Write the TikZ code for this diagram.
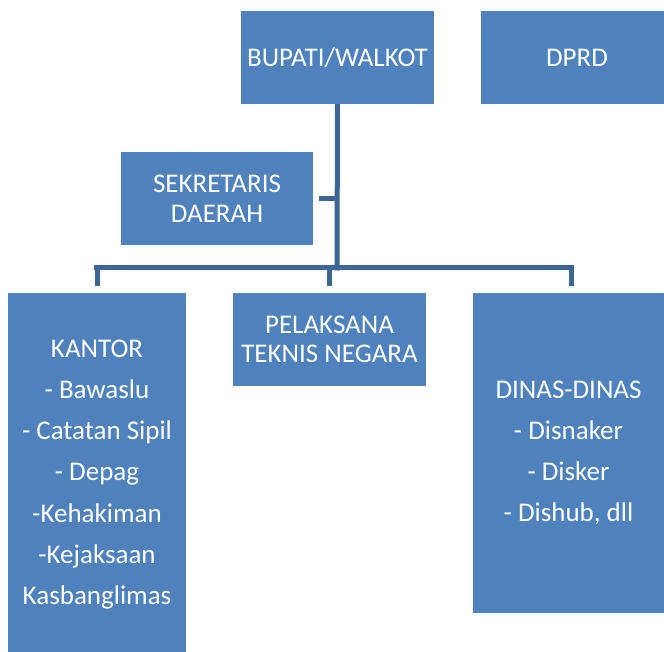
\documentclass[tikz,border=0pt]{standalone}
\usepackage{fontspec}
\setmainfont{Carlito}
\definecolor{boxblue}{HTML}{4F81BD}
\definecolor{lineblue}{HTML}{3D6596}
\tikzset{
  orgbox/.style={draw=none, fill=boxblue, text=white, align=center, inner sep=0pt,
    font=\fontsize{27}{29.5}\selectfont},
  conn/.style={draw=lineblue, line width=5pt}
}
\begin{document}
\begin{tikzpicture}[x=1pt,y=-1pt]
\useasboundingbox (0,0) rectangle (664,652);
\fill[white] (0,0) rectangle (664,652);
% boxes
\node[orgbox, minimum width=193pt, minimum height=93pt] (bup) at (337.5,57.5) {BUPATI/WALKOT};
\node[orgbox, minimum width=192pt, minimum height=93pt] (dprd) at (577,57.5) {DPRD};
\node[orgbox, minimum width=192pt, minimum height=93pt] (sek) at (217,198.5) {SEKRETARIS\\DAERAH};
\node[orgbox, minimum width=178pt, minimum height=363pt] (kan) at (97,474.5) {KANTOR\\[11.8pt]- Bawaslu\\[11.8pt]- Catatan Sipil\\[11.8pt]- Depag\\[11.8pt]-Kehakiman\\[11.8pt]-Kejaksaan\\[11.8pt]Kasbanglimas};
\node[orgbox, minimum width=193pt, minimum height=93pt] (pel) at (329.5,339.5) {PELAKSANA\\TEKNIS NEGARA};
\node[orgbox, minimum width=191pt, minimum height=320pt] (din) at (568.5,453) {DINAS-DINAS\\[11.8pt]- Disnaker\\[11.8pt]- Disker\\[11.8pt]- Dishub, dll};
% connectors
\coordinate (hub) at (337,268);
\coordinate (hl) at (96,268);
\coordinate (hr) at (571,268);
\coordinate (sekj) at (337,199);
\draw[conn] (bup.south) -- ([yshift=-2.5pt]hub);
\draw[conn] ([xshift=-2.5pt]hl) -- ([xshift=2.5pt]hr);
\draw[conn] ([xshift=6pt]sek.east |- sekj) -- (sekj);
\draw[conn] (kan.north |- hl) -- ([yshift=7pt]kan.north);
\draw[conn] (pel.north |- hub) -- ([yshift=7pt]pel.north);
\draw[conn] (hr) -- ([yshift=7pt]din.north -| hr);
\end{tikzpicture}
\end{document}
